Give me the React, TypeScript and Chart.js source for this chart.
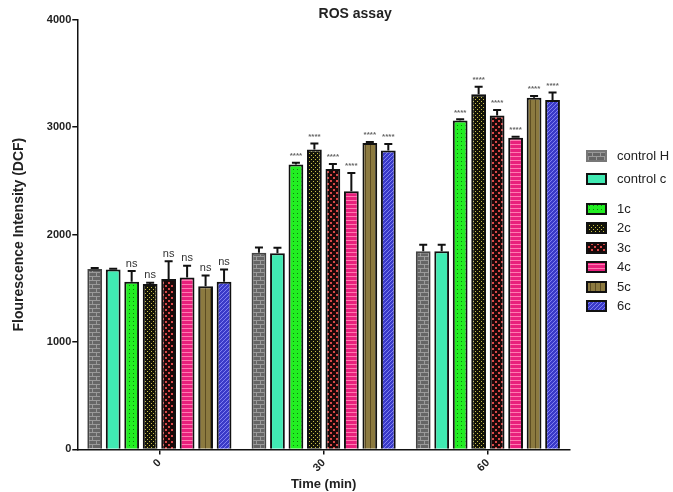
import React, { useEffect, useRef } from 'react';
import { Chart, registerables } from 'chart.js';
Chart.register(...registerables);

const categories = ['0', '30', '60'];
const seriesNames = ['control H', 'control c', '1c', '2c', '3c', '4c', '5c', '6c'];
const controlH = [1680, 1830, 1845];
const controlC = [1675, 1827, 1845];
const c1 = [1560, 2653, 3063];
const c2 = [1540, 2793, 3306];
const c3 = [1587, 2612, 3110];
const c4 = [1600, 2404, 2901];
const c5 = [1519, 2853, 3275];
const c6 = [1560, 2784, 3253];
const errControlH = [10, 50, 60];
const errControlC = [8, 50, 60];
const err1 = [100, 15, 10];
const err2 = [12, 55, 70];
const err3 = [165, 45, 50];
const err4 = [110, 170, 10];
const err5 = [100, 10, 15];
const err6 = [115, 60, 70];
const significance = ['ns', '****', '****'];
const yTicks = [0, 1000, 2000, 3000, 4000];
const chartTitle = 'ROS assay';

const seriesValues = [controlH, controlC, c1, c2, c3, c4, c5, c6];
const seriesErrors = [errControlH, errControlC, err1, err2, err3, err4, err5, err6];

type PatDraw = (ctx: CanvasRenderingContext2D) => void;
function makePattern(size: number, bg: string, draw: PatDraw): CanvasPattern | string {
  const c = document.createElement('canvas');
  c.width = size;
  c.height = size;
  const ctx = c.getContext('2d');
  if (!ctx) return bg;
  ctx.fillStyle = bg;
  ctx.fillRect(0, 0, size, size);
  draw(ctx);
  return ctx.createPattern(c, 'repeat') || bg;
}

function buildFills() {
  return [
    makePattern(8, '#666666', (g) => {
      g.fillStyle = '#9a9a9a';
      g.fillRect(0, 0, 8, 1);
      g.fillRect(0, 4, 8, 1);
      g.fillRect(0, 0, 1, 4);
      g.fillRect(4, 4, 1, 4);
    }),
    '#40eab2',
    makePattern(4, '#22ee22', (g) => {
      g.fillStyle = '#0f7a0f';
      g.fillRect(1, 1, 1, 1);
    }),
    makePattern(4, '#141408', (g) => {
      g.fillStyle = '#c8c048';
      g.fillRect(1, 1, 1, 1);
      g.fillRect(3, 3, 1, 1);
    }),
    makePattern(6, '#1a0808', (g) => {
      g.fillStyle = '#d84848';
      g.fillRect(0, 0, 2, 2);
      g.fillRect(3, 3, 2, 2);
    }),
    makePattern(4, '#e8207c', (g) => {
      g.fillStyle = '#ff7ab0';
      g.fillRect(0, 0, 4, 1);
    }),
    makePattern(5, '#8c7a40', (g) => {
      g.fillStyle = '#5c4c22';
      g.fillRect(0, 0, 1, 5);
    }),
    makePattern(4, '#3a3ac8', (g) => {
      g.strokeStyle = '#8080f0';
      g.lineWidth = 1;
      g.beginPath();
      g.moveTo(0, 4);
      g.lineTo(4, 0);
      g.stroke();
    }),
  ];
}

const borderColors = ['#444444', '#111111', '#111111', '#111111', '#111111', '#111111', '#111111', '#111111'];

const errorBarPlugin = {
  id: 'errorBars',
  afterDatasetsDraw(chart: any) {
    const ctx = chart.ctx;
    const yScale = chart.scales.y;
    ctx.save();
    chart.data.datasets.forEach((ds: any, di: number) => {
      const meta = chart.getDatasetMeta(di);
      meta.data.forEach((el: any, i: number) => {
        const v = ds.data[i];
        const e = seriesErrors[di][i];
        const yTop = yScale.getPixelForValue(v + e);
        ctx.strokeStyle = '#111111';
        ctx.lineWidth = 2;
        ctx.beginPath();
        ctx.moveTo(el.x, el.y);
        ctx.lineTo(el.x, yTop);
        ctx.moveTo(el.x - 4, yTop);
        ctx.lineTo(el.x + 4, yTop);
        ctx.stroke();
        if (di >= 2) {
          const label = significance[i];
          ctx.fillStyle = '#333333';
          ctx.textAlign = 'center';
          ctx.textBaseline = 'bottom';
          if (label === 'ns') {
            ctx.font = '11px "Liberation Sans", Arial, sans-serif';
            ctx.fillText(label, el.x, yTop - 2);
          } else {
            ctx.font = 'bold 8px "Liberation Sans", Arial, sans-serif';
            ctx.fillStyle = '#666666';
            ctx.fillText(label, el.x, yTop - 3);
          }
        }
      });
    });
    ctx.restore();
  },
};

const legendPlugin = {
  id: 'customLegend',
  afterDraw(chart: any) {
    const ctx = chart.ctx;
    const area = chart.chartArea;
    const x0 = area.right + 17;
    const rowsY = [156, 179, 209, 228, 248, 267, 287, 306];
    ctx.save();
    chart.data.datasets.forEach((ds: any, di: number) => {
      const y = rowsY[di];
      ctx.fillStyle = ds.backgroundColor;
      ctx.fillRect(x0, y - 5, 19, 10);
      ctx.strokeStyle = di === 0 ? '#777777' : '#111111';
      ctx.lineWidth = 2;
      ctx.strokeRect(x0, y - 5, 19, 10);
      ctx.fillStyle = '#222222';
      ctx.font = '13px "Liberation Sans", Arial, sans-serif';
      ctx.textAlign = 'left';
      ctx.textBaseline = 'middle';
      ctx.fillText(ds.label, x0 + 30, y);
    });
    // title, centred over plot + legend block
    ctx.fillStyle = '#222222';
    ctx.font = 'bold 14px "Liberation Sans", Arial, sans-serif';
    ctx.textAlign = 'center';
    ctx.textBaseline = 'middle';
    ctx.fillText(chartTitle, (area.left + chart.width) / 2 - 20, 14);
    ctx.restore();
  },
};

export default function App() {
  const ref = useRef<HTMLCanvasElement>(null);
  useEffect(() => {
    document.body.style.margin = '0';
    if (!ref.current) return;
    const fills = buildFills();
    const chart = new Chart(ref.current, {
      type: 'bar',
      data: {
        labels: categories,
        datasets: seriesNames.map((name, i) => ({
          label: name,
          data: seriesValues[i],
          backgroundColor: fills[i] as any,
          borderColor: borderColors[i],
          borderWidth: 2,
          borderSkipped: 'bottom',
          barPercentage: 0.8,
          categoryPercentage: 0.9,
        })),
      },
      options: {
        animation: false,
        responsive: false,
        layout: { padding: { left: 11, right: 103, top: 0, bottom: 0 } },
        plugins: {
          legend: { display: false },
          tooltip: { enabled: false },
          title: {
            display: true,
            text: chartTitle,
            color: 'rgba(0,0,0,0)',
            font: { family: '"Liberation Sans", Arial, sans-serif', size: 14, weight: 'bold' },
            padding: { top: 6, bottom: -3 },
          },
        },
        scales: {
          x: {
            grid: { display: true, drawOnChartArea: false, offset: false, tickLength: 5, color: '#111111', lineWidth: 1.5 },
            border: { display: true, color: '#111111', width: 1.5 },
            ticks: {
              color: '#222222',
              font: { family: '"Liberation Sans", Arial, sans-serif', size: 11, weight: 'bold' },
              minRotation: 45,
              maxRotation: 45,
              padding: 2,
            },
            title: {
              display: true,
              text: 'Time (min)',
              color: '#222222',
              font: { family: '"Liberation Sans", Arial, sans-serif', size: 13, weight: 'bold' },
              padding: { top: 0, bottom: 0 },
            },
          },
          y: {
            min: 0,
            max: 4000,
            afterBuildTicks: (scale: any) => {
              scale.ticks = yTicks.map((v) => ({ value: v }));
            },
            grid: { display: true, drawOnChartArea: false, tickLength: 5, color: '#111111', lineWidth: 1.5 },
            border: { display: true, color: '#111111', width: 1.5 },
            ticks: {
              color: '#222222',
              font: { family: '"Liberation Sans", Arial, sans-serif', size: 11, weight: 'bold' },
              padding: 1,
              callback: (v: any) => String(v),
            },
            title: {
              display: true,
              text: 'Flourescence Intensity (DCF)',
              color: '#222222',
              font: { family: '"Liberation Sans", Arial, sans-serif', size: 14, weight: 'bold' },
              padding: { top: 0, bottom: 18 },
            },
          },
        },
      },
      plugins: [errorBarPlugin, legendPlugin],
    });
    return () => chart.destroy();
  }, []);
  return (
    <div style={{ width: 673, height: 492, background: '#ffffff' }}>
      <canvas ref={ref} width={673} height={492} style={{ display: 'block' }} />
    </div>
  );
}
